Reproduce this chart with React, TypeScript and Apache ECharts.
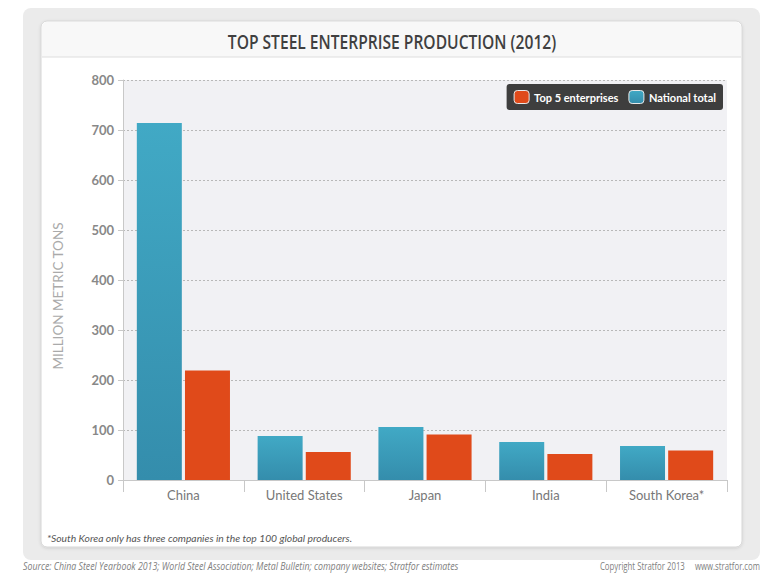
import React, { useEffect, useRef } from "react";
import * as echarts from "echarts";

const categories = ["China", "United States", "Japan", "India", "South Korea*"];
const nationalTotal = [714, 88, 106, 76, 68];
const topFive = [219, 56, 91, 52, 59];
const yTicks = { min: 0, max: 800, interval: 100 };

const SANS = '"Open Sans", "DejaVu Sans", sans-serif';
const BODY = 'Lato, "Open Sans", sans-serif';

export default function App() {
  const ref = useRef<HTMLDivElement>(null);

  useEffect(() => {
    if (!ref.current) return;
    const chart = echarts.init(ref.current, undefined, { renderer: "svg" });

    chart.setOption({
      animation: false,
      backgroundColor: "#ffffff",
      legend: {
        right: 61,
        top: 84,
        backgroundColor: "#3e3e3e",
        borderRadius: 3,
        padding: [6, 7, 6, 7],
        itemWidth: 15,
        itemHeight: 13,
        itemGap: 10,
        data: [
          { name: "Top 5 enterprises", itemStyle: { borderColor: "#e8e8e8", borderWidth: 1 } },
          { name: "National total", itemStyle: { borderColor: "#e8e8e8", borderWidth: 1 } },
        ],
        textStyle: { color: "#ffffff", fontFamily: BODY, fontSize: 11, fontWeight: "bold" },
      },
      grid: {
        left: 123,
        right: 57,
        top: 80,
        bottom: 95,
        show: true,
        backgroundColor: "#f1f1f4",
        borderWidth: 0,
      },
      xAxis: {
        type: "category",
        data: categories,
        axisLine: { lineStyle: { color: "#c8c8c8" } },
        axisTick: { show: true, length: 12, interval: 0, lineStyle: { color: "#c8c8c8" } },
        axisLabel: { color: "#777", fontFamily: BODY, fontSize: 13, margin: 8 },
      },
      yAxis: {
        type: "value",
        min: yTicks.min,
        max: yTicks.max,
        interval: yTicks.interval,
        name: "MILLION METRIC TONS",
        nameLocation: "middle",
        nameGap: 58,
        nameRotate: 90,
        nameTextStyle: { color: "#aaaaaa", fontFamily: BODY, fontSize: 13.5, padding: [0, 32, 0, 0] },
        axisLine: { show: true, lineStyle: { color: "#c8c8c8" } },
        axisTick: { show: true, length: 5, lineStyle: { color: "#c8c8c8" } },
        axisLabel: { color: "#888", fontFamily: BODY, fontSize: 13, fontWeight: "bold", margin: 9 },
        splitLine: { show: true, lineStyle: { color: "#b8b8b8", type: [2, 2] } },
      },
      series: [
        {
          name: "National total",
          type: "bar",
          data: nationalTotal,
          barWidth: 45,
          barGap: "7%",
          itemStyle: {
            color: new echarts.graphic.LinearGradient(0, 0, 0, 1, [
              { offset: 0, color: "#41a9c5" },
              { offset: 1, color: "#348dac" },
            ]),
          },
        },
        {
          name: "Top 5 enterprises",
          type: "bar",
          data: topFive,
          barWidth: 45,
          itemStyle: { color: "#e04a1a" },
        },
      ],
      graphic: [
        // outer panel
        { type: "rect", z: -20, shape: { x: 23, y: 8, width: 737, height: 552, r: 8 }, style: { fill: "#ebebeb" } },
        // inner card
        {
          type: "rect",
          z: -19,
          shape: { x: 41, y: 21, width: 701, height: 526, r: 6 },
          style: { fill: "#ffffff", stroke: "#d6d6d6", lineWidth: 1, shadowColor: "rgba(0,0,0,0.12)", shadowBlur: 3, shadowOffsetY: 1 },
        },
        // title band
        { type: "rect", z: -18, shape: { x: 42, y: 22, width: 699, height: 35, r: [5, 5, 0, 0] }, style: { fill: "#f8f8f8" } },
        { type: "line", z: -17, shape: { x1: 42, y1: 57, x2: 741, y2: 57 }, style: { stroke: "#dedede", lineWidth: 1 } },
        // condensed title
        {
          type: "text",
          x: 392,
          y: 41,
          scaleX: 0.78,
          style: {
            text: "TOP STEEL ENTERPRISE PRODUCTION (2012)",
            fill: "#404040",
            font: `600 20px ${SANS}`,
            textAlign: "center",
            textVerticalAlign: "middle",
          },
        },
        {
          type: "text",
          x: 47,
          y: 538,
          style: {
            text: "*South Korea only has three companies in the top 100 global producers.",
            fill: "#555",
            font: `italic 10.3px ${BODY}`,
            textVerticalAlign: "middle",
          },
        },
        {
          type: "text",
          x: 23,
          y: 566,
          scaleX: 0.88,
          style: {
            text: "Source: China Steel Yearbook 2013; World Steel Association; Metal Bulletin; company websites; Stratfor estimates",
            fill: "#808080",
            font: `italic 10px ${SANS}`,
            textVerticalAlign: "middle",
          },
        },
        {
          type: "text",
          x: 760,
          y: 566,
          scaleX: 0.78,
          style: {
            text: "Copyright Stratfor 2013     www.stratfor.com",
            fill: "#808080",
            font: `10px ${SANS}`,
            textAlign: "right",
            textVerticalAlign: "middle",
          },
        },
      ],
    });

    return () => chart.dispose();
  }, []);

  return <div ref={ref} style={{ position: "fixed", left: 0, top: 0, width: 784, height: 575 }} />;
}
